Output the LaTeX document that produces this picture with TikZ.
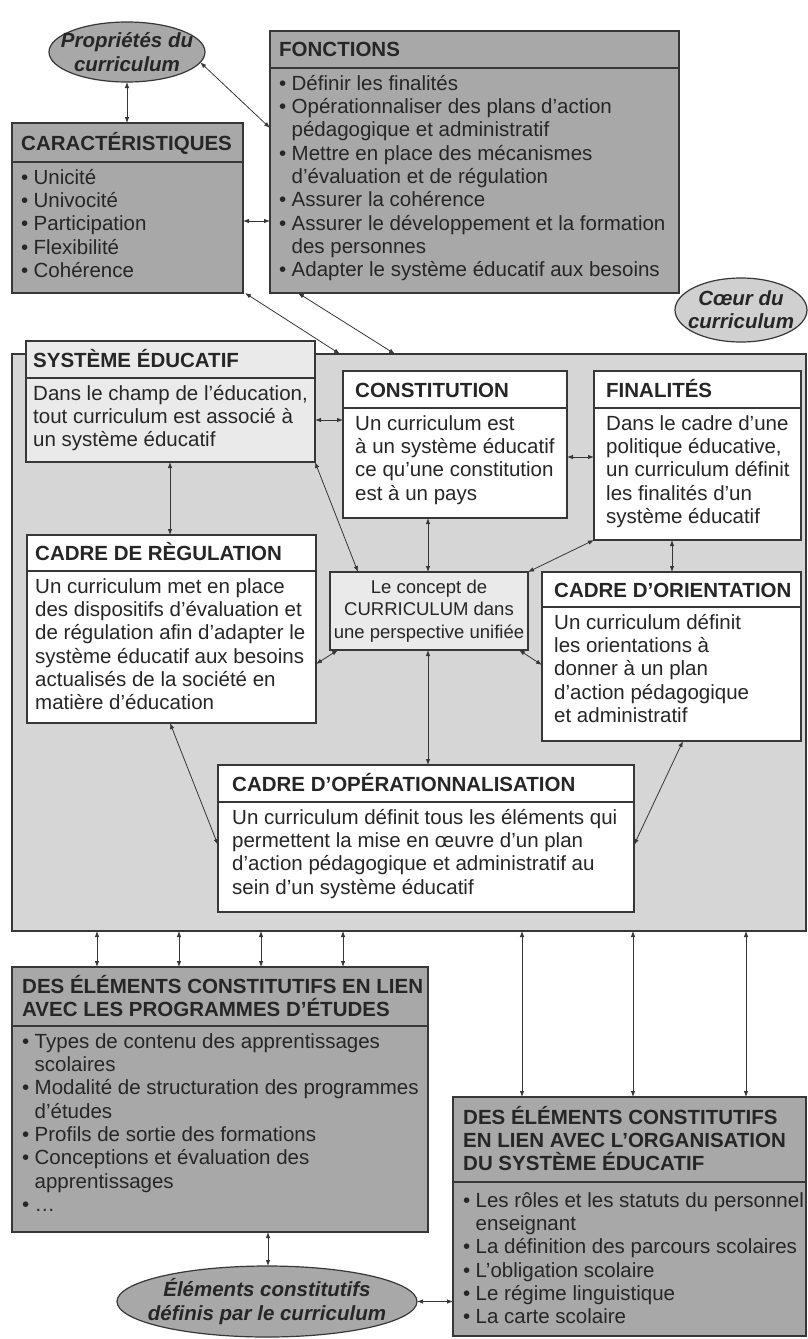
\documentclass[tikz,border=0pt]{standalone}
\usepackage{fontspec}
\setmainfont{Liberation Sans}
\usetikzlibrary{arrows.meta,shapes.geometric,calc}
\definecolor{dk}{RGB}{168,168,168}
\definecolor{lt}{RGB}{214,214,214}
\definecolor{vl}{RGB}{234,234,234}
\definecolor{cl}{RGB}{208,208,208}
\definecolor{ln}{RGB}{55,55,55}
\definecolor{tx}{RGB}{38,38,38}
\newcommand{\bx}{\makebox[12.5pt][l]{•}}
\newcommand{\ind}{\hspace*{12.5pt}}
\newcommand{\bodyfont}{\fontsize{20.5}{23.3}\selectfont}
\newcommand{\fst}{\rule{0pt}{19.5pt}}
\begin{document}
\begin{tikzpicture}[x=1pt,y=-1pt,font=\bodyfont,text=tx,
  box/.style={draw=ln,line width=1.1pt,anchor=north west,inner sep=0pt,outer sep=0pt},
  thick box/.style={box,line width=2.3pt},
  hd/.style={font=\bodyfont\bfseries,anchor=base west,inner sep=0pt},
  hdm/.style={font=\bodyfont\bfseries,anchor=north west,inner sep=0pt,align=left},
  bd/.style={anchor=north west,inner sep=0pt,align=left},
  sep/.style={draw=ln,line width=1.1pt},
  ell/.style={ellipse,draw=ln,line width=1.2pt,inner sep=0pt,outer sep=0pt},
  elltxt/.style={font=\bodyfont\bfseries\itshape,align=center,inner sep=0pt},
  dbl/.style={draw=ln,line width=0.8pt,{Latex[length=6pt,width=4.5pt]}-{Latex[length=6pt,width=4.5pt]}}]
\useasboundingbox (0,0) rectangle (807,1339);
\fill[white] (0,0) rectangle (807,1339);

% top ellipses
\node[ell,fill=dk,minimum width=156pt,minimum height=60pt] (prop) at (127,52) {};
\node[elltxt] (propT) at (prop) {Propriétés du\\curriculum};
\node[ell,fill=cl,minimum width=132pt,minimum height=64pt] (coeur) at (741,310) {};
\node[elltxt] (coeurT) at (coeur) {Cœur du\\curriculum};

% FONCTIONS
\node[box,fill=dk,minimum width=409pt,minimum height=262pt] (fonc) at (270,31) {};
\node[hd] (foncH) at (279,56.8) {FONCTIONS};
\draw[sep] (fonc.west |- 0,68) -- (fonc.east |- 0,68);
\node[bd] (foncB) at (279,70.5) {\fst\bx Définir les finalités\\
\bx Opérationnaliser des plans d’action\\
\ind pédagogique et administratif\\
\bx Mettre en place des mécanismes\\
\ind d’évaluation et de régulation\\
\bx Assurer la cohérence\\
\bx Assurer le développement et la formation\\
\ind des personnes\\
\bx Adapter le système éducatif aux besoins};

% CARACTERISTIQUES
\node[box,fill=dk,minimum width=231pt,minimum height=170pt] (carac) at (12,123) {};
\node[hd] (caracH) at (21,150) {CARACTÉRISTIQUES};
\draw[sep] (carac.west |- 0,162) -- (carac.east |- 0,162);
\node[bd] (caracB) at (21,164.5) {\fst\bx Unicité\\ \bx Univocité\\ \bx Participation\\ \bx Flexibilité\\ \bx Cohérence};

% big box
\node[box,fill=lt,line width=2.2pt,minimum width=794pt,minimum height=577pt] (big) at (12,354) {};

% SYSTEME EDUCATIF
\node[thick box,fill=vl,minimum width=289pt,minimum height=121pt] (sys) at (26,341) {};
\node[hd] (sysH) at (33,367) {SYSTÈME ÉDUCATIF};
\draw[sep,line width=1.8pt] (sys.west |- 0,378) -- (sys.east |- 0,378);
\node[bd] (sysB) at (33,380.5) {\fst Dans le champ de l’éducation,\\tout curriculum est associé à\\un système éducatif};

% CONSTITUTION
\node[box,fill=white,minimum width=224pt,minimum height=147pt] (const) at (343,371) {};
\node[hd] (constH) at (355,397) {CONSTITUTION};
\draw[sep] (const.west |- 0,408) -- (const.east |- 0,408);
\node[bd] (constB) at (355,410.5) {\fst Un curriculum est\\à un système éducatif\\ce qu’une constitution\\est à un pays};

% FINALITES
\node[box,fill=white,minimum width=207pt,minimum height=169pt] (fin) at (594,371) {};
\node[hd] (finH) at (606,397) {FINALITÉS};
\draw[sep] (fin.west |- 0,408) -- (fin.east |- 0,408);
\node[bd] (finB) at (606,410.5) {\fst Dans le cadre d'une\\politique éducative,\\un curriculum définit\\les finalités d'un\\système éducatif};

% CADRE DE REGULATION
\node[box,fill=white,minimum width=289pt,minimum height=188pt] (reg) at (27,535) {};
\node[hd] (regH) at (35,560) {CADRE DE RÈGULATION};
\draw[sep] (reg.west |- 0,571) -- (reg.east |- 0,571);
\node[bd] (regB) at (35,573.5) {\fst Un curriculum met en place\\des dispositifs d’évaluation et\\de régulation afin d’adapter le\\système éducatif aux besoins\\actualisés de la société en\\matière d’éducation};

% concept
\node[thick box,fill=vl,minimum width=198pt,minimum height=78pt] (conc) at (330,572) {};
\node[font=\fontsize{18.5}{22.5}\selectfont,align=center,inner sep=0pt] (concT) at (conc) {Le concept de\\CURRICULUM dans\\une perspective unifiée};

% CADRE D'ORIENTATION
\node[box,fill=white,minimum width=259pt,minimum height=169pt] (orient) at (542,572) {};
\node[hd] (orientH) at (554,597) {CADRE D’ORIENTATION};
\draw[sep] (orient.west |- 0,607) -- (orient.east |- 0,607);
\node[bd] (orientB) at (554,609.5) {\fst Un curriculum définit\\les orientations à\\donner à un plan\\d’action pédagogique\\et administratif};

% CADRE D'OPERATIONNALISATION
\node[box,fill=white,minimum width=416pt,minimum height=147pt] (oper) at (218,765) {};
\node[hd] (operH) at (232,791) {CADRE D’OPÉRATIONNALISATION};
\draw[sep] (oper.west |- 0,802) -- (oper.east |- 0,802);
\node[bd] (operB) at (232,804.5) {\fst Un curriculum définit tous les éléments qui\\permettent la mise en œuvre d’un plan\\d’action pédagogique et administratif au\\sein d’un système éducatif};

% programmes
\node[box,fill=dk,minimum width=416pt,minimum height=265pt] (prog) at (12,967) {};
\node[hdm] (progH) at (22,973.5) {\fst DES ÉLÉMENTS CONSTITUTIFS EN LIEN\\AVEC LES PROGRAMMES D'ÉTUDES};
\draw[sep] (prog.west |- 0,1026) -- (prog.east |- 0,1026);
\node[bd] (progB) at (22,1028.5) {\fst\bx Types de contenu des apprentissages\\
\ind scolaires\\
\bx Modalité de structuration des programmes\\
\ind d'études\\
\bx Profils de sortie des formations\\
\bx Conceptions et évaluation des\\
\ind apprentissages\\
\bx …};

% organisation
\node[box,fill=dk,minimum width=353pt,minimum height=239pt] (org) at (453,1097) {};
\node[hdm] (orgH) at (463,1104.5) {\fst DES ÉLÉMENTS CONSTITUTIFS\\EN LIEN AVEC L’ORGANISATION\\DU SYSTÈME ÉDUCATIF};
\draw[sep] (org.west |- 0,1182) -- (org.east |- 0,1182);
\node[bd] (orgB) at (463,1187.5) {\fst\bx Les rôles et les statuts du personnel\\
\ind enseignant\\
\bx La définition des parcours scolaires\\
\bx L’obligation scolaire\\
\bx Le régime linguistique\\
\bx La carte scolaire};

% bottom ellipse
\node[ell,fill=dk,minimum width=300pt,minimum height=71pt] (elem) at (267,1301.5) {};
\node[elltxt] (elemT) at (elem) {Éléments constitutifs\\définis par le curriculum};

% connectors
\draw[dbl] (prop.south) -- (prop.south |- carac.north);
\draw[dbl] (prop.-8) -- (fonc.west |- 0,128);
\draw[dbl] (carac.east |- 0,221) -- (fonc.west |- 0,221);
\draw[dbl] ([xshift=2pt]carac.south east) -- (big.north -| 340,0);
\draw[dbl] ([xshift=28pt]fonc.south west) -- (big.north -| 395,0);
\draw[dbl] (sys.east |- 0,420) -- (const.west |- 0,420);
\draw[dbl] (const.east |- 0,457) -- (fin.west |- 0,457);
\draw[dbl] (sys.south -| 170,0) -- (reg.north -| 170,0);
\draw[dbl] (sys.south east) -- (conc.north -| 358,0);
\draw[dbl] (const.south -| 428,0) -- (conc.north -| 428,0);
\draw[dbl] (fin.south west) -- (conc.north east);
\draw[dbl] (fin.south -| 672,0) -- (orient.north -| 672,0);
\draw[dbl] (conc.south -| 338,0) -- (reg.east |- 0,664);
\draw[dbl] (conc.south -| 519,0) -- (orient.west |- 0,665);
\draw[dbl] (conc.south -| 428,0) -- (oper.north -| 428,0);
\draw[dbl] (reg.south -| 170,0) -- (oper.west |- 0,845);
\draw[dbl] (orient.south -| 683,0) -- (oper.east |- 0,845);
\foreach \xx in {97,179,261,343} \draw[dbl] (big.south -| \xx,0) -- (prog.north -| \xx,0);
\foreach \xx in {522,633,746} \draw[dbl] (big.south -| \xx,0) -- (org.north -| \xx,0);
\draw[dbl] (prog.south -| 268,0) -- (elem.north -| 268,0);
\draw[dbl] (elem.east) -- (org.west |- elem.east);
\end{tikzpicture}
\end{document}
